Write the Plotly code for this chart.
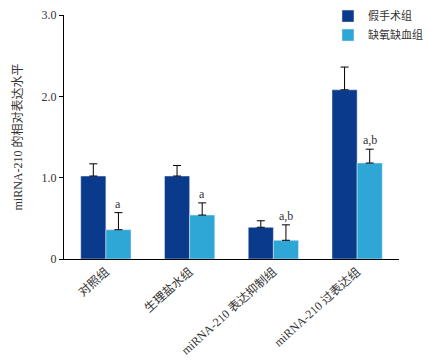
import plotly.graph_objects as go

categories = ["对照组", "生理盐水组", "miRNA-210 表达抑制组", "miRNA-210 过表达组"]
sham_values = [1.02, 1.02, 0.39, 2.08]
sham_err = [0.15, 0.13, 0.08, 0.28]
hypoxia_values = [0.36, 0.54, 0.23, 1.18]
hypoxia_err = [0.21, 0.15, 0.19, 0.17]
sig_labels = ["a", "a", "a,b", "a,b"]
series_names = ["假手术组", "缺氧缺血组"]
ytick_vals = [0, 1, 2, 3]
ytick_text = ["0", "1.0", "2.0", "3.0"]

FONT = "Liberation Serif, Noto Sans CJK SC, serif"
DARK = "#0a3a8c"
LIGHT = "#2ea6d6"

fig = go.Figure()
fig.add_trace(go.Bar(
    x=categories, y=sham_values, name=series_names[0], marker_color=DARK,
    error_y=dict(type="data", array=sham_err, arrayminus=[0]*4, symmetric=False,
                 color="black", thickness=1, width=4),
))
fig.add_trace(go.Bar(
    x=categories, y=hypoxia_values, name=series_names[1], marker_color=LIGHT,
    error_y=dict(type="data", array=hypoxia_err, arrayminus=[0]*4, symmetric=False,
                 color="black", thickness=1, width=4),
))

for i, lab in enumerate(sig_labels):
    fig.add_annotation(x=i + 0.15, y=hypoxia_values[i] + hypoxia_err[i], text=lab,
                       showarrow=False, yanchor="bottom", yshift=0,
                       font=dict(family=FONT, size=12, color="#333"))

fig.update_layout(
    width=423, height=354,
    margin=dict(l=56, r=32, t=7, b=103, autoexpand=False),
    plot_bgcolor="white", paper_bgcolor="white",
    barmode="group", bargap=0.4, bargroupgap=0,
    font=dict(family=FONT, size=11, color="#333"),
    legend=dict(x=0.788, y=1.055, xanchor="left", yanchor="top",
                font=dict(family=FONT, size=11, color="#333"),
                itemwidth=30, tracegroupgap=2, bgcolor="rgba(0,0,0,0)"),
    showlegend=True,
)
fig.update_xaxes(showline=True, linecolor="black", linewidth=1, ticks="",
                 tickangle=-42, tickfont=dict(family=FONT, size=12, color="#333"))
fig.update_yaxes(range=[0, 3], tickvals=ytick_vals, ticktext=ytick_text,
                 showline=True, linecolor="black", linewidth=1, ticks="outside",
                 ticklen=4, tickcolor="black", showgrid=False, zeroline=False,
                 tickfont=dict(family=FONT, size=12, color="#333"),
                 title=dict(text="miRNA-210 的相对表达水平", standoff=16,
                            font=dict(family=FONT, size=12, color="#333")))

fig.write_html("out.html")
